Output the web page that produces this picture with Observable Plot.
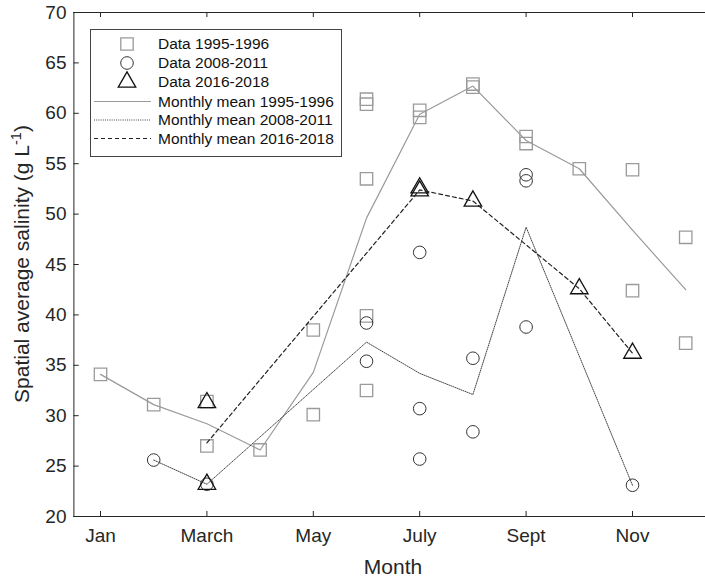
<!DOCTYPE html>
<html><head><meta charset="utf-8">
<script src="https://cdn.jsdelivr.net/npm/d3@7"></script>
<script src="https://cdn.jsdelivr.net/npm/@observablehq/plot@0.6"></script>
<style>html,body{margin:0;padding:0;background:#fff;overflow:hidden} svg{display:block}</style>
</head><body><div id="chart"></div>
<script>
// ---- data ----
const tickMonths = [1, 3, 5, 7, 9, 11];
const tickLabels = ["Jan", "March", "May", "July", "Sept", "Nov"];
const yTicks = [20, 25, 30, 35, 40, 45, 50, 55, 60, 65, 70];

const sq1995Month = [1, 2, 3, 3, 4, 5, 5, 6, 6, 6, 6, 6, 7, 7, 8, 8, 9, 9, 10, 11, 11, 12, 12];
const sq1995Value = [34.1, 31.1, 27.0, 31.4, 26.6, 38.5, 30.1, 61.4, 60.9, 53.5, 39.9, 32.5, 60.3, 59.6, 62.9, 62.6, 57.7, 57.0, 54.5, 54.4, 42.4, 47.7, 37.2];

const ci2008Month = [2, 3, 6, 6, 7, 7, 7, 8, 8, 9, 9, 9, 11];
const ci2008Value = [25.6, 23.2, 39.2, 35.4, 46.2, 30.7, 25.7, 35.7, 28.4, 53.9, 53.3, 38.8, 23.1];

const tr2016Month = [3, 3, 7, 7, 8, 10, 11];
const tr2016Value = [31.3, 23.2, 52.6, 52.3, 51.3, 42.6, 36.2];

const mean1995Month = [1, 2, 3, 4, 5, 6, 7, 8, 9, 10, 11, 12];
const mean1995Value = [34.1, 31.1, 29.2, 26.6, 34.3, 49.6, 59.9, 62.7, 57.3, 54.5, 48.4, 42.5];
const mean2008Month = [2, 3, 6, 7, 8, 9, 11];
const mean2008Value = [25.6, 23.2, 37.3, 34.2, 32.1, 48.7, 23.1];
const mean2016Month = [3, 7, 8, 10, 11];
const mean2016Value = [27.3, 52.4, 51.3, 42.6, 36.2];

const legendLabels = ["Data 1995-1996", "Data 2008-2011", "Data 2016-2018",
  "Monthly mean 1995-1996", "Monthly mean 2008-2011", "Monthly mean 2016-2018"];

// ---- helpers ----
const zip = (xs, ys) => xs.map((x, i) => ({x, y: ys[i]}));
const FONT = "'Liberation Sans', Arial, sans-serif";

const sty = {
  sq: {symbol: "square", r: 7.0, stroke: "#9a9a9a", strokeWidth: 1.3, fill: "none"},
  ci: {symbol: "circle", r: 6.3, stroke: "#333", strokeWidth: 1, fill: "none"},
  tr: {symbol: "triangle", r: 6.5, stroke: "#111", strokeWidth: 1.3, fill: "none"},
  l1: {stroke: "#9a9a9a", strokeWidth: 1.2},
  l2: {stroke: "#444", strokeWidth: 1, strokeDasharray: "1,1.2"},
  l3: {stroke: "#222", strokeWidth: 1.2, strokeDasharray: "4,3"}
};

const svg = Plot.plot({
  width: 705, height: 581,
  marginLeft: 73, marginTop: 12, marginBottom: 65, marginRight: 0,
  x: {domain: [0.5, 12.5], range: [73.4, 711.8]},
  y: {domain: [20, 70], range: [516, 12]},
  style: {fontFamily: FONT, background: "white", color: "#262626", overflow: "hidden"},
  marks: [
    Plot.dot(zip(sq1995Month, sq1995Value), {x: "x", y: "y", ...sty.sq}),
    Plot.dot(zip(ci2008Month, ci2008Value), {x: "x", y: "y", ...sty.ci}),
    Plot.dot(zip(tr2016Month, tr2016Value), {x: "x", y: "y", ...sty.tr}),
    Plot.line(zip(mean1995Month, mean1995Value), {x: "x", y: "y", ...sty.l1}),
    Plot.line(zip(mean2008Month, mean2008Value), {x: "x", y: "y", ...sty.l2}),
    Plot.line(zip(mean2016Month, mean2016Value), {x: "x", y: "y", ...sty.l3}),
    // box
    Plot.ruleY([20, 70], {stroke: "#262626", strokeWidth: 1}),
    Plot.ruleX([0.5], {y1: 20, y2: 70, stroke: "#262626", strokeWidth: 1}),
    // inward ticks
    Plot.ruleX(tickMonths, {y1: 20, y2: 20.5, stroke: "#262626"}),
    Plot.ruleX(tickMonths, {y1: 70, y2: 69.5, stroke: "#262626"}),
    Plot.ruleY(yTicks, {x1: 0.5, x2: 0.6, stroke: "#262626"}),
    Plot.axisX(tickMonths, {tickSize: 0, tickPadding: 12, fontSize: 19, label: null,
      tickFormat: d => tickLabels[tickMonths.indexOf(d)]}),
    Plot.axisY(yTicks, {tickSize: 0, tickPadding: 7, fontSize: 19, label: null})
  ]
});

const s = d3.select(svg);
// axis titles
s.append("text").attr("x", 393).attr("y", 574).attr("text-anchor", "middle")
  .attr("font-family", FONT).attr("font-size", 21).attr("fill", "#262626").text("Month");
const yl = s.append("text").attr("transform", "translate(29,264) rotate(-90)")
  .attr("text-anchor", "middle").attr("font-family", FONT).attr("font-size", 21).attr("fill", "#262626");
yl.append("tspan").text("Spatial average salinity (g L");
yl.append("tspan").attr("font-size", 14.5).attr("dy", -8).text("-1");
yl.append("tspan").attr("dy", 8).text(")");

// legend
const lg = s.append("g").attr("font-family", FONT).attr("font-size", 15.5)
  .attr("fill", "#111").attr("text-anchor", "start");
lg.append("rect").attr("x", 90.5).attr("y", 29.5).attr("width", 251).attr("height", 127)
  .attr("fill", "white").attr("stroke", "#444").attr("stroke-width", 1);
const rowY = [44, 63, 82, 101.5, 120, 138.5];
const symArea = r => Math.PI * r * r;
[[d3.symbolSquare, sty.sq], [d3.symbolCircle, sty.ci], [d3.symbolTriangle, sty.tr]].forEach(([sym, st], i) => {
  lg.append("path").attr("d", d3.symbol(sym, symArea(st.r))())
    .attr("transform", `translate(127,${rowY[i]})`)
    .attr("fill", "none").attr("stroke", st.stroke).attr("stroke-width", st.strokeWidth);
});
[sty.l1, sty.l2, sty.l3].forEach((st, i) => {
  lg.append("line").attr("x1", 94).attr("x2", 151).attr("y1", rowY[i + 3]).attr("y2", rowY[i + 3])
    .attr("stroke", st.stroke).attr("stroke-width", st.strokeWidth)
    .attr("stroke-dasharray", st.strokeDasharray || null);
});
legendLabels.forEach((t, i) => {
  lg.append("text").attr("x", 158).attr("y", rowY[i]).attr("dy", "0.35em").text(t);
});

document.getElementById("chart").appendChild(svg);
</script>
</body></html>
